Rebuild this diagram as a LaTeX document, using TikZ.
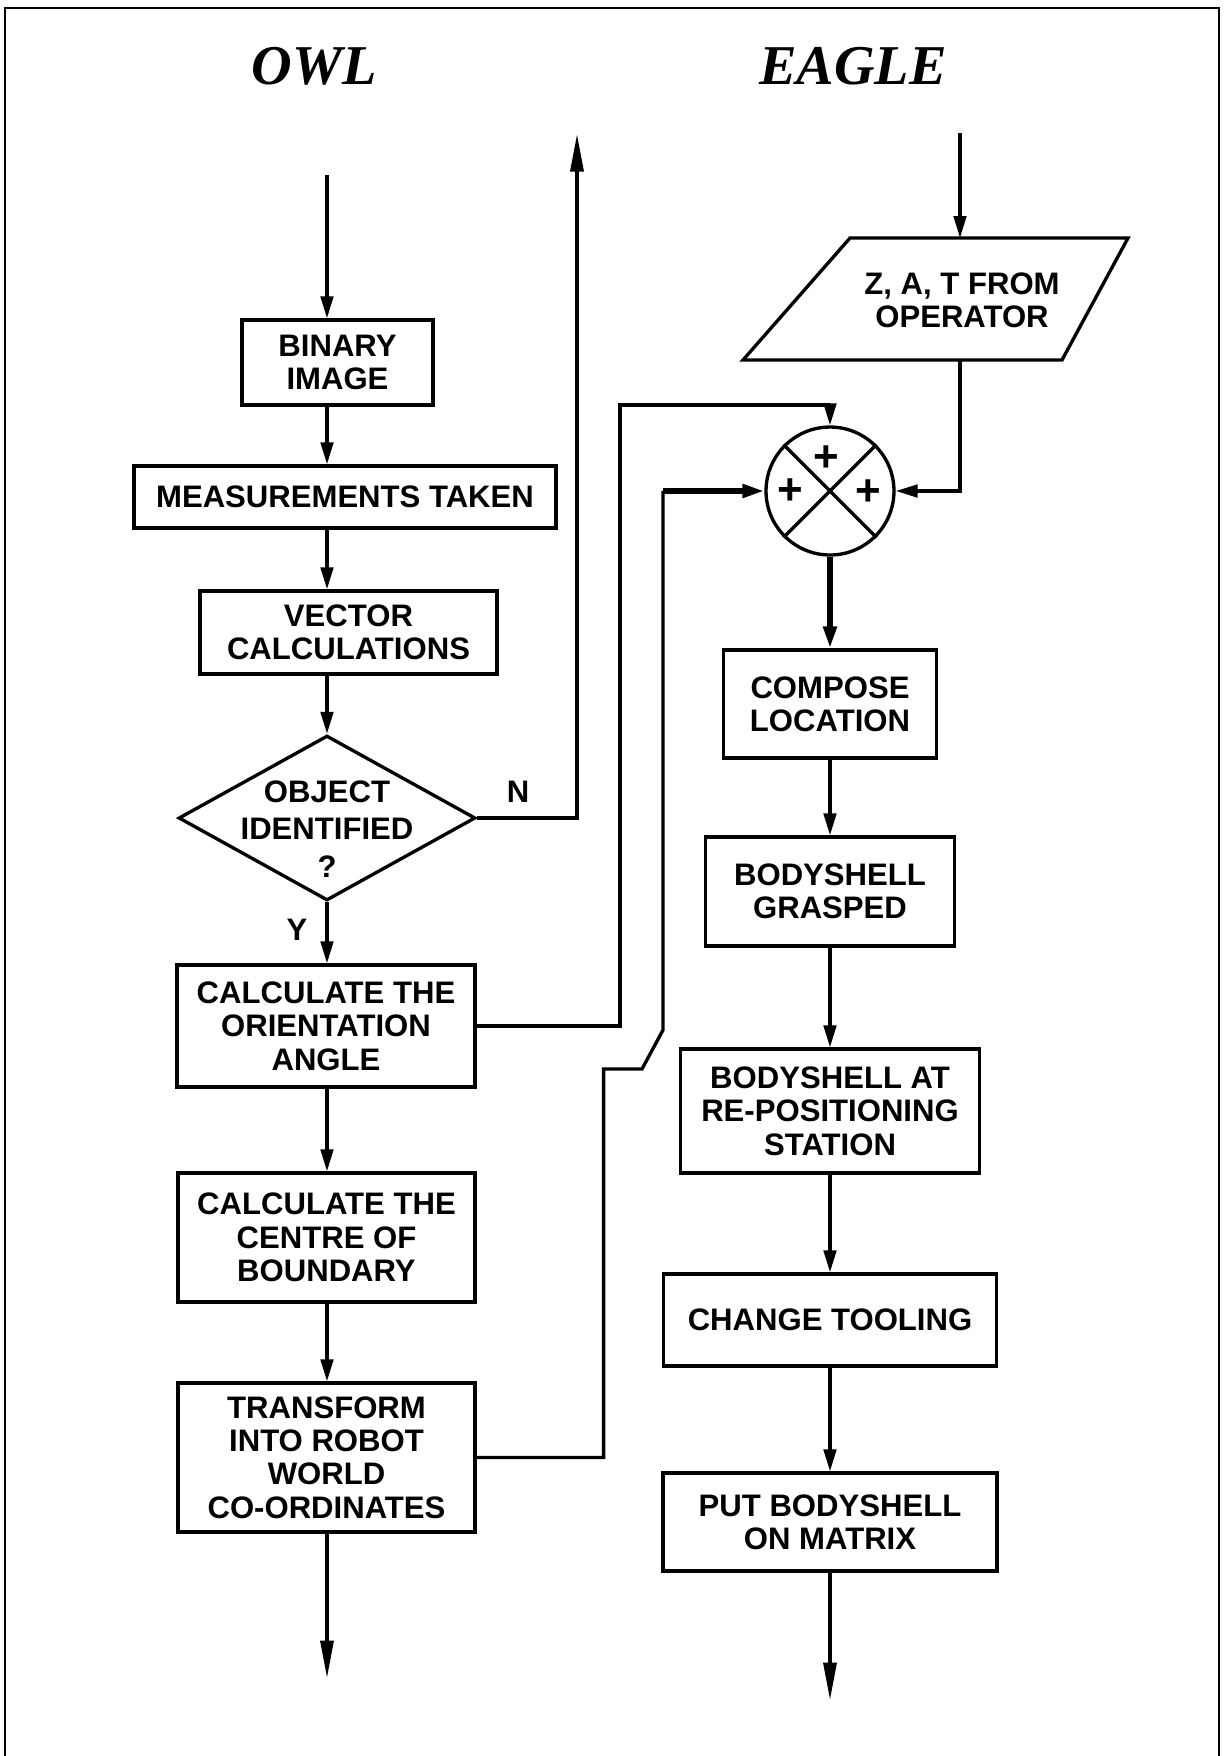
\documentclass[tikz,border=0pt]{standalone}
\usepackage{fontspec}
\setmainfont{Liberation Sans}
\newfontfamily\headfont{Liberation Serif}
\usetikzlibrary{shapes.geometric, arrows.meta, positioning, calc}

\begin{document}
\begin{tikzpicture}[
  x=0.02cm, y=-0.02cm,
  box/.style={draw, line width=1.9pt, inner sep=0pt, align=center,
    font=\bfseries\fontsize{17.7}{19}\selectfont},
  lbl/.style={align=center, font=\bfseries\fontsize{17.7}{19}\selectfont},
  head/.style={font=\headfont\bfseries\itshape\fontsize{32}{36}\selectfont},
  flow/.style={line width=1.9pt},
  heavy/.style={line width=3pt},
  arr/.style={flow, -{Triangle[length=0.44cm,width=0.25cm]}},
  outarr/.style={flow, -{Triangle[length=0.75cm,width=0.26cm]}}
]
\useasboundingbox (0,0) rectangle (1225,1756);
\draw[line width=1.6pt] (5,1756) -- (5,8) -- (1219,8) -- (1219,1756);

\node[head] (owl)   at (314,66) {OWL};
\node[head] (eagle) at (853,66) {EAGLE};

% owl column
\node[box, minimum width=3.82cm, minimum height=1.70cm] (bin)    at (337.5,362.5) {BINARY\\IMAGE};
\node[box, minimum width=8.44cm, minimum height=1.24cm] (meas)   at (345,497)     {MEASUREMENTS TAKEN};
\node[box, minimum width=5.94cm, minimum height=1.66cm] (vec)    at (348.5,632.5) {VECTOR\\CALCULATIONS};
\node[draw, diamond, line width=1.9pt, inner sep=0pt,
      minimum width=5.94cm, minimum height=3.3cm]      (dia)    at (327,818)     {};
\node[lbl, font=\bfseries\fontsize{17.7}{21.5}\selectfont] (diatxt) at (327,829) {OBJECT\\IDENTIFIED\\?};
\node[box, minimum width=5.96cm, minimum height=2.44cm] (orient) at (326,1026)    {CALCULATE THE\\ORIENTATION\\ANGLE};
\node[box, minimum width=5.94cm, minimum height=2.58cm] (centre) at (326.5,1237.5) {CALCULATE THE\\CENTRE OF\\BOUNDARY};
\node[box, minimum width=5.94cm, minimum height=2.98cm] (trans)  at (326.5,1457.5) {TRANSFORM\\INTO ROBOT\\WORLD\\CO-ORDINATES};

\node[lbl] (nlab) at (518,792) {N};
\node[lbl] (ylab) at (297,930) {Y};

% eagle column
\draw[flow] (743,360) -- (850,238) -- (1128,238) -- (1062,360) -- cycle;
\node[lbl] (zat) at (962,300) {Z, A, T FROM\\OPERATOR};
\node[draw, circle, line width=1.9pt, inner sep=0pt, minimum size=2.56cm] (sum) at (830,491) {};
\draw[flow] (sum.north west) -- (sum.south east);
\draw[flow] (sum.north east) -- (sum.south west);
\node[lbl, font=\bfseries\fontsize{25}{25}\selectfont] (ptop)   at (826,459) {+};
\node[lbl, font=\bfseries\fontsize{25}{25}\selectfont] (pleft)  at (790,492) {+};
\node[lbl, font=\bfseries\fontsize{25}{25}\selectfont] (pright) at (868,493) {+};

\node[box, minimum width=4.26cm, minimum height=2.16cm] (comp)  at (830,704)    {COMPOSE\\LOCATION};
\node[box, minimum width=4.98cm, minimum height=2.18cm] (grasp) at (830,891.5)  {BODYSHELL\\GRASPED};
\node[box, minimum width=5.98cm, minimum height=2.48cm] (stat)  at (830,1111)   {BODYSHELL AT\\RE-POSITIONING\\STATION};
\node[box, minimum width=6.66cm, minimum height=1.84cm] (tool)  at (830,1320)   {CHANGE TOOLING};
\node[box, minimum width=6.68cm, minimum height=1.96cm] (mat)   at (830,1522)   {PUT BODYSHELL\\ON MATRIX};

\coordinate (owlin)   at (327,175);
\coordinate (owlout)  at (327,1678);
\coordinate (nout)    at (577,134);
\coordinate (eaglein) at (960,133);
\coordinate (ztop)    at (960,238);
\coordinate (zbot)    at (960,360);
\coordinate (loopA)   at (620,405);
\coordinate (loopB)   at (663,491);
\coordinate (eagleout) at (830,1700);

% owl connectors
\draw[arr] (owlin) -- (owlin |- bin.north);
\draw[arr] (bin.south -| owlin) -- (meas.north -| owlin);
\draw[arr] (meas.south -| owlin) -- (vec.north -| owlin);
\draw[arr] (vec.south -| owlin) -- (dia.north);
\draw[arr] (dia.south) -- (dia.south |- orient.north);
\draw[arr] (orient.south -| owlin) -- (centre.north -| owlin);
\draw[arr] (centre.south -| owlin) -- (trans.north -| owlin);
\draw[outarr] (trans.south -| owlin) -- (owlout);
\draw[outarr] (dia.east) -| (nout);

% cross links into the summing junction
\draw[arr] (orient.east) -| (loopA) -| (sum.north);
\draw[flow] (trans.east) -- ++(127,0) |- (642,1069) -- (663,1030) -- (loopB);
\draw[heavy, -{Triangle[length=0.44cm,width=0.26cm]}] (loopB) -- (sum.west);

% eagle connectors
\draw[arr] (eaglein) -- (ztop);
\draw[arr] (zbot) |- (sum.east);
\draw[heavy, -{Triangle[length=0.44cm,width=0.26cm]}] (sum.south) -- (comp.north);
\draw[arr] (comp) -- (grasp);
\draw[arr] (grasp) -- (stat);
\draw[arr] (stat) -- (tool);
\draw[arr] (tool) -- (mat);
\draw[outarr] (mat) -- (eagleout);
\end{tikzpicture}
\end{document}
